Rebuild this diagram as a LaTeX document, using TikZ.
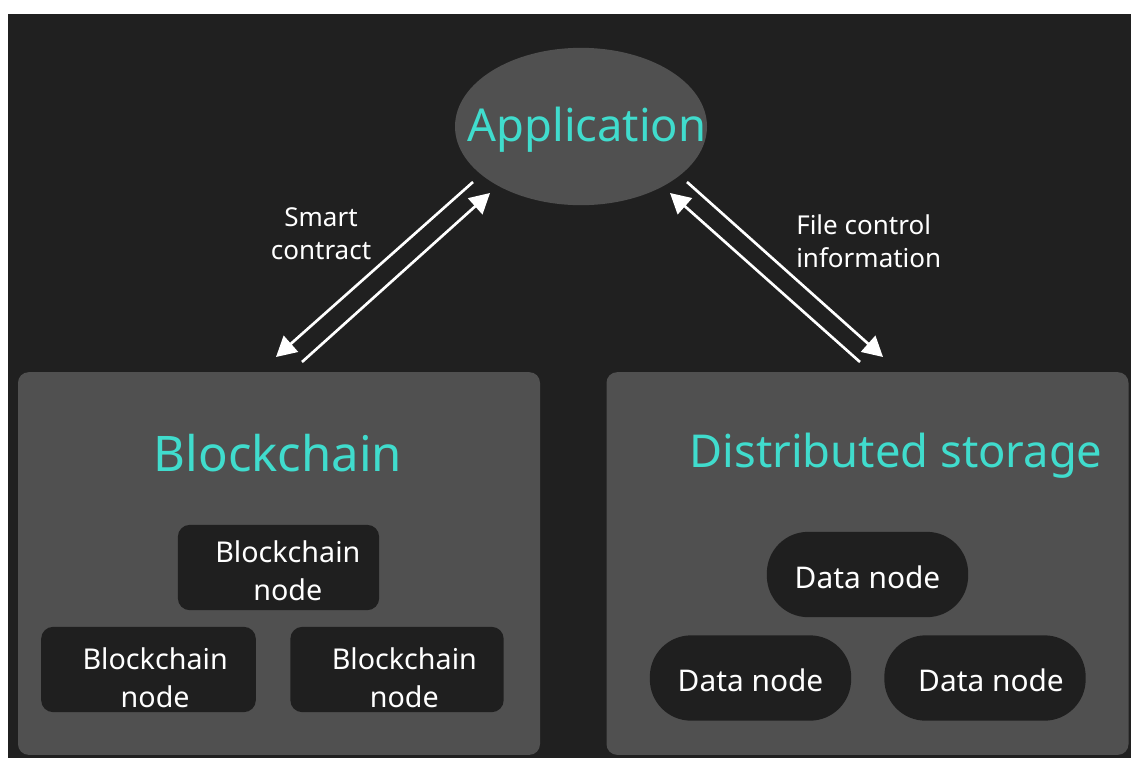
\documentclass[tikz,border=0pt]{standalone}
\usepackage{fontspec}
\setmainfont{Noto Sans}
\usetikzlibrary{arrows.meta,shapes}

\definecolor{bgdark}{RGB}{32,32,32}
\definecolor{panelgray}{RGB}{80,80,80}
\definecolor{boxdark}{RGB}{31,31,31}
\definecolor{teal}{RGB}{64,220,205}

\tikzset{
    panel/.style={fill=panelgray, rounded corners=8pt, minimum width=391.5pt, minimum height=287pt},
    title/.style={text=teal, font=\fontsize{34}{40}\selectfont},
    chainbox/.style={fill=boxdark, rounded corners=9pt, minimum height=64pt},
    chaintext/.style={align=center, text=white, font=\fontsize{21.5}{28.5}\selectfont},
    databox/.style={fill=boxdark, rounded corners=31pt, minimum width=151pt, minimum height=64pt},
    datatext/.style={text=white, font=\fontsize{22.4}{26}\selectfont},
    label/.style={text=white, font=\fontsize{19.5}{25}\selectfont},
    flow/.style={draw=white, line width=2pt, -{Triangle[length=15pt,width=16pt]}}
}

\begin{document}
\begin{tikzpicture}[x=0.75pt, y=-0.75pt]
    % page and background
    \fill[white] (0,0) rectangle (1131,758);
    \fill[bgdark] (8,14) rectangle (1131,758);
    \useasboundingbox (0,0) rectangle (1131,758);

    % top
    \node[ellipse, fill=panelgray, minimum width=189pt, minimum height=118pt] (app) at (581,126.5) {};
    \node[title] (apptext) at (587,130) {Application};

    % the two panels
    \node[panel] (chain) at (279,563.5) {};
    \node[panel] (store) at (867.5,563.5) {};
    \node[title, font=\fontsize{36.8}{42}\selectfont] (chaintitle) at (278,453) {Blockchain};
    \node[title] (storetitle) at (896,456) {Distributed storage};

    % blockchain nodes
    \node[chainbox, minimum width=151pt] (bc1) at (278.5,567.5) {};
    \node[chainbox, minimum width=161pt] (bc2) at (148.5,669.5) {};
    \node[chainbox, minimum width=160pt] (bc3) at (397,669.5) {};
    \node[chaintext] (bc1text) at ([xshift=7pt,yshift=-2.5pt]bc1) {Blockchain\\node};
    \node[chaintext] (bc2text) at ([xshift=5pt,yshift=-6.5pt]bc2) {Blockchain\\node};
    \node[chaintext] (bc3text) at ([xshift=5.5pt,yshift=-6.5pt]bc3) {Blockchain\\node};

    % data nodes
    \node[databox] (dn1) at (867.5,574.5) {};
    \node[databox] (dn2) at (750.5,678) {};
    \node[databox] (dn3) at (985,678) {};
    \node[datatext] (dn1text) at ([yshift=-2pt]dn1) {Data node};
    \node[datatext] (dn2text) at ([yshift=-1.5pt]dn2) {Data node};
    \node[datatext] (dn3text) at ([xshift=4.5pt,yshift=-1.5pt]dn3) {Data node};

    % arrows between app and panels
    \coordinate (sc-a) at (473,182);
    \coordinate (sc-b) at (276,357);
    \coordinate (sc-c) at (302,362);
    \coordinate (sc-d) at (490,193);
    \coordinate (fc-a) at (687,182);
    \coordinate (fc-b) at (883,357);
    \coordinate (fc-c) at (860,362);
    \coordinate (fc-d) at (670,193);
    \draw[flow] (sc-a) -- (sc-b);
    \draw[flow] (sc-c) -- (sc-d);
    \draw[flow] (fc-a) -- (fc-b);
    \draw[flow] (fc-c) -- (fc-d);

    \node[label, align=center] (sclabel) at (321,234) {Smart\\contract};
    \node[label, align=left, anchor=west, inner sep=0pt] (fclabel) at (796,241) {File control\\information};
\end{tikzpicture}
\end{document}
